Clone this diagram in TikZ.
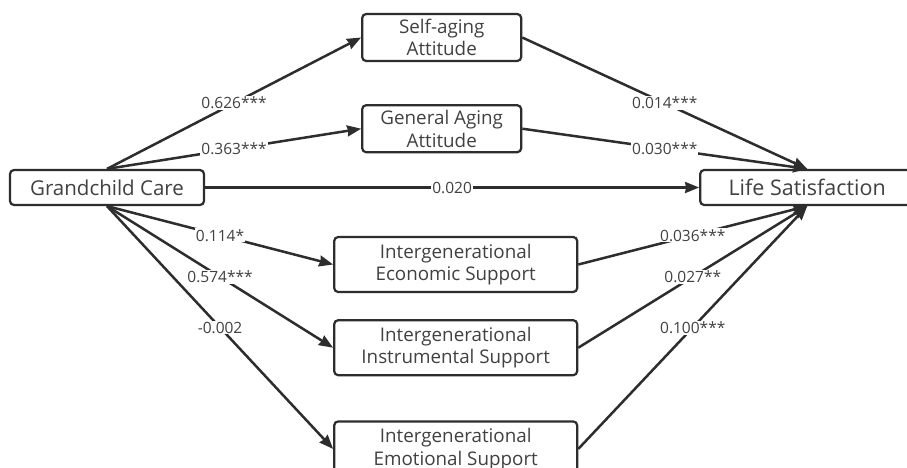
\documentclass[tikz,border=0pt]{standalone}
\usepackage{fontspec}
\setmainfont{Open Sans}
\usetikzlibrary{positioning,arrows.meta}
\definecolor{linegray}{RGB}{45,45,45}
\definecolor{textgray}{RGB}{65,65,65}
\tikzstyle{plainnode}=[draw=none,fill=white,text=textgray,inner sep=1pt,font=\fontsize{15.5}{16}\selectfont]
\tikzstyle{rectanglenode}=[draw=linegray, line width=2.2pt, rectangle, rounded corners=4pt, align=center, text=textgray, inner sep=0pt, font=\fontsize{18.8}{22.5}\selectfont]
\tikzstyle{attnode}=[rectanglenode, minimum width=159pt, minimum height=47pt]
\tikzstyle{supportnode}=[rectanglenode, minimum width=243pt, minimum height=55pt]
\tikzstyle{arrowline}=[->,>={Stealth[length=14pt,width=11pt,inset=1pt]},line width=2.5pt,draw=linegray]

\begin{document}
\begin{tikzpicture}
\useasboundingbox[fill=white] (0,0) rectangle (907pt,-467pt);
\node[rectanglenode, minimum width=194pt, minimum height=35pt, font=\fontsize{20.5}{22}\selectfont] (care) at (107pt,-187.5pt) {Grandchild Care};
\node[attnode, right = 156pt of care, yshift = 150pt] (selfatt) {Self-aging\\Attitude};
\node[attnode, below = 42pt of selfatt] (genatt) {General Aging\\Attitude};
\node[rectanglenode, minimum width=214pt, minimum height=35pt, font=\fontsize{21.5}{22}\selectfont, right = 494pt of care] (lifesat) {Life Satisfaction};
\node[supportnode, right = 128pt of care, yshift = -77pt] (econ) {Intergenerational\\Economic Support};
\node[supportnode, below = 26pt of econ] (instr) {Intergenerational\\Instrumental Support};
\node[supportnode, below = 44pt of instr] (emot) {Intergenerational\\Emotional Support};
% paths from grandchild care
\draw (care.north) edge[arrowline] node[plainnode] {0.626***} (selfatt.west);
\draw (care.north) edge[arrowline] node[plainnode] {0.363***} (genatt.west);
\draw (care.east) edge[arrowline] node[plainnode] {0.020} (lifesat.west);
\draw (care.south) edge[arrowline] node[plainnode] {0.114*} (econ.west);
\draw (care.south) edge[arrowline] node[plainnode] {0.574***} (instr.west);
\draw (care.south) edge[arrowline] node[plainnode] {-0.002} (emot.west);
% paths into life satisfaction
\draw (selfatt.east) edge[arrowline] node[plainnode] {0.014***} (lifesat.north);
\draw (genatt.east) edge[arrowline] node[plainnode] {0.030***} (lifesat.north);
\draw (econ.east) edge[arrowline] node[plainnode] {0.036***} (lifesat.south);
\draw (instr.east) edge[arrowline] node[plainnode] {0.027**} (lifesat.south);
\draw (emot.east) edge[arrowline] node[plainnode] {0.100***} (lifesat.south);
\end{tikzpicture}
\end{document}
